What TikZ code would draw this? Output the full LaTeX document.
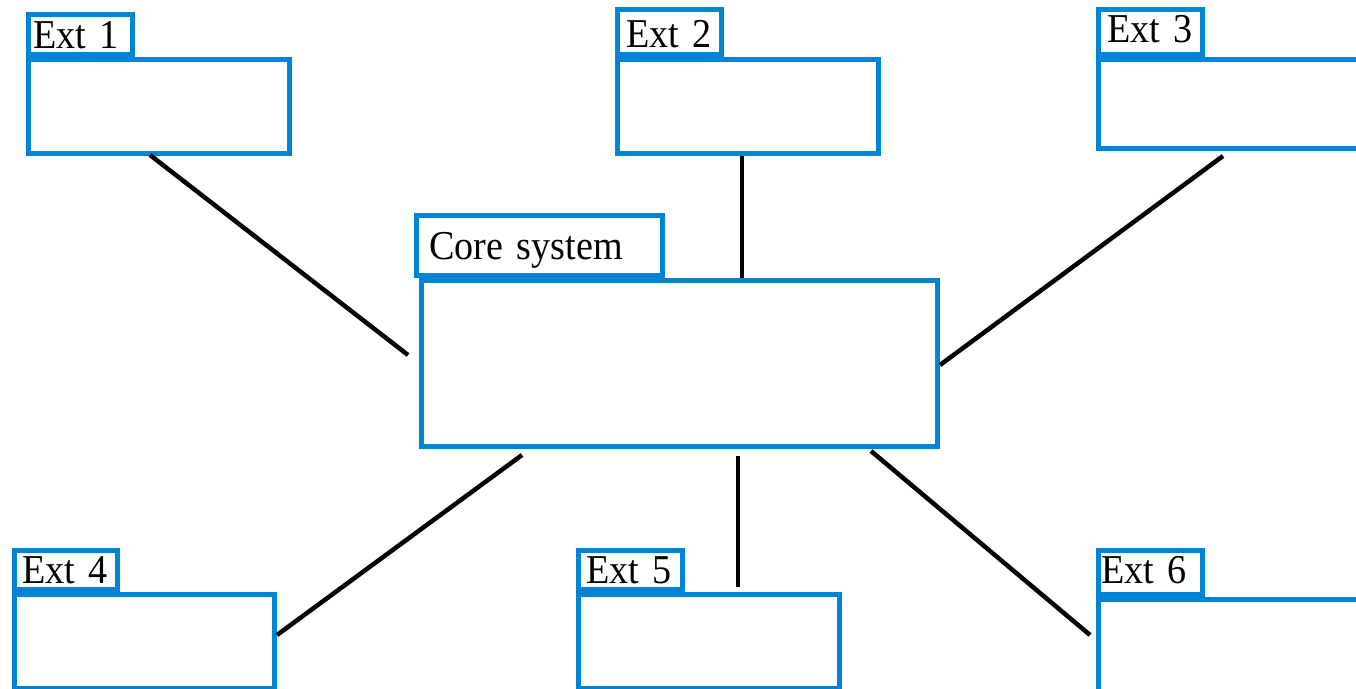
\documentclass[tikz,border=0pt]{standalone}
\usepackage{fontspec}
\setmainfont{Liberation Serif}[FakeStretch=0.93]
\usetikzlibrary{calc}
\definecolor{frameblue}{RGB}{0,132,214}
\begin{document}
\begin{tikzpicture}[x=1pt,y=-1pt,
  box/.style={draw=frameblue, line width=5pt, fill=white, rectangle,
    outer sep=0pt, inner sep=0pt},
  tab/.style={draw=frameblue, line width=5pt, fill=white, rectangle,
    outer sep=0pt, inner sep=0pt, anchor=north west, align=left,
    font=\fontsize{41}{48}\selectfont},
  link/.style={draw=black, line width=4.5pt}]
\useasboundingbox (0,0) rectangle (1356,688);

% main boxes
\node[box, minimum width=261, minimum height=94] (e1) at (159,106.5) {};
\node[box, minimum width=261, minimum height=94] (e2) at (748,106.5) {};
\node[box, minimum width=261, minimum height=89] (e3) at (1229,104) {};
\node[box, minimum width=516, minimum height=166] (core) at (679.5,363.5) {};
\node[box, minimum width=260, minimum height=94] (e4) at (144.5,641.5) {};
\node[box, minimum width=261, minimum height=94] (e5) at (709,641.5) {};
\node[box, minimum width=261, minimum height=94] (e6) at (1229,646.5) {};

% title tabs
\node[tab, text width=104pt, text height=33.5pt, text depth=6.5pt] (t1) at (28.5,14.5) {\noindent\hspace*{4.5pt}Ext 1};
\node[tab, text width=104pt, text height=37.8pt, text depth=7.2pt] (t2) at (617.5,9.5) {\noindent\hspace*{8.5pt}Ext 2};
\node[tab, text width=104pt, text height=32.5pt, text depth=12.5pt] (t3) at (1098.5,9.5) {\noindent\hspace*{8.5pt}Ext 3};
\node[tab, text width=246pt, text height=43.5pt, text depth=16.5pt] (tc) at (416.5,215.5) {\noindent\hspace*{12.5pt}Core system};
\node[tab, text width=103pt, text height=32.5pt, text depth=6.5pt] (t4) at (14.5,550.5) {\noindent\hspace*{7.5pt}Ext 4};
\node[tab, text width=104pt, text height=32.5pt, text depth=6.5pt] (t5) at (578.5,550.5) {\noindent\hspace*{7.5pt}Ext 5};
\node[tab, text width=104pt, text height=32.5pt, text depth=11.5pt] (t6) at (1098.5,550.5) {\noindent\hspace*{2.5pt}Ext 6};

% connectors
\draw[link] ($(e1.south)+(-9,1.5)$) -- ($(core.west)+(-13.5,-8.5)$);
\draw[link] ($(e2.south)+(-6,2.5)$) -- ($(core.north)+(62.5,-2.5)$);
\draw[link] ($(e3.south)+(-6,7.5)$) -- ($(core.east)+(2.5,1.5)$);
\draw[link] ($(core.south)+(-157.5,8.5)$) -- ($(e4.east)+(2.5,-6.5)$);
\draw[link] ($(core.south)+(58.5,9.5)$) -- ($(e5.north)+(29,-7.5)$);
\draw[link] ($(core.south)+(191.5,4.5)$) -- ($(e6.west)+(-8.5,-11.5)$);
\end{tikzpicture}
\end{document}
